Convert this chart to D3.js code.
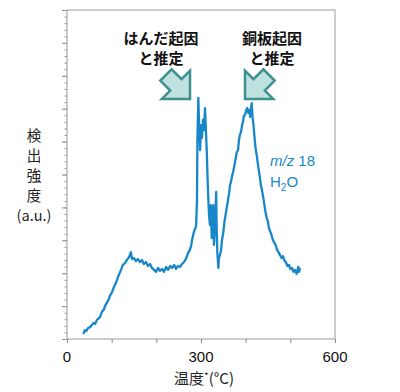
<!doctype html>
<html>
<head>
<meta charset="utf-8">
<style>
  body { margin: 0; background: #fff; }
  svg { display: block; font-family: "Noto Sans CJK JP", "Noto Sans", sans-serif; }
  .frame { fill: none; stroke: #9a9a9a; stroke-width: 1; }
</style>
<script src="https://d3js.org/d3.v7.min.js"></script>
</head>
<body>
<svg width="400" height="392"></svg>
<script>
// temperature (°C)
var temps = [36.5, 40, 43, 47, 51.5, 56, 60, 63, 67, 72, 74, 78, 83, 85, 90, 94, 96, 101, 105, 107.5,
  112, 114, 119, 121, 125, 130, 134, 139, 143, 145.5, 150, 154.5, 159, 163, 168, 172, 177, 181, 186, 190,
  195, 199, 204, 208, 213, 217, 222, 226, 231, 235, 240, 244, 248.5, 253, 257.5, 262, 266, 271, 275, 278,
  280, 282, 284, 286.5, 289, 291, 292, 294, 295.5, 298, 300, 302, 304.5, 307, 309, 311, 313, 314.5, 316, 318,
  320, 322, 324, 326, 327.5, 329, 331, 334, 335, 336.5, 339, 340, 342.5, 345, 347, 350, 352.5, 355, 357.5, 360.5,
  363, 365, 367, 369.5, 372, 375, 377, 380, 383, 385, 387, 389.5, 392, 394, 396, 398.5, 400.7, 403.6, 406, 408.6,
  410, 412, 413.5, 415, 417.5, 420, 422, 424.7, 427.6, 430, 432, 434, 436.5, 439.5, 442, 444.4, 447, 450, 452, 455.6,
  458, 461, 464.5, 468, 470, 473.5, 477, 480.5, 483.6, 487, 490, 493.6, 497, 500, 503.7, 507, 510, 514, 516, 518,
  519.5, 521.6];
// m/z 18 intensity (a.u.)
var h2o = [0.15, 0.27, 0.24, 0.33, 0.36, 0.43, 0.49, 0.46, 0.58, 0.64, 0.67, 0.82, 0.91, 1.0, 1.12, 1.22, 1.31, 1.43, 1.58, 1.64,
  1.79, 1.88, 2.04, 2.10, 2.25, 2.31, 2.40, 2.49, 2.64, 2.43, 2.46, 2.37, 2.43, 2.34, 2.40, 2.28, 2.34, 2.22, 2.28, 2.16,
  2.10, 2.04, 2.16, 2.07, 2.13, 2.04, 2.19, 2.10, 2.22, 2.16, 2.25, 2.13, 2.22, 2.19, 2.28, 2.34, 2.43, 2.61, 2.71, 2.83,
  3.01, 3.13, 3.25, 3.34, 3.43, 4.22, 6.05, 7.33, 6.66, 5.74, 6.50, 6.11, 6.66, 6.35, 7.02, 6.35, 5.68, 4.98, 4.38, 3.77,
  3.47, 4.07, 3.07, 3.62, 4.07, 2.86, 3.31, 4.47, 3.47, 2.64, 2.16, 2.46, 2.55, 2.71, 3.01, 3.25, 3.56, 3.77, 3.98, 4.22,
  4.44, 4.68, 4.77, 4.95, 5.08, 5.29, 5.44, 5.68, 5.74, 6.05, 6.20, 6.29, 6.50, 6.60, 6.78, 6.81, 6.93, 7.02, 6.87, 6.96,
  6.75, 7.02, 7.17, 6.81, 6.50, 6.11, 5.81, 5.59, 5.29, 5.08, 4.89, 4.68, 4.53, 4.29, 4.07, 3.86, 3.68, 3.56, 3.37, 3.25,
  3.16, 3.01, 2.92, 2.83, 2.71, 2.64, 2.55, 2.46, 2.52, 2.37, 2.34, 2.22, 2.25, 2.13, 2.16, 2.04, 2.10, 1.98, 2.10, 2.19,
  2.04, 2.16];
var xTickLabels = [0, 300, 600];
var yLabelLines = ["検", "出", "強", "度", "(a.u.)"];
var notes = [
  { lines: ["はんだ起因", "と推定"], dir: 1 },
  { lines: ["銅板起因", "と推定"], dir: -1 }
];

var svg = d3.select("svg");
var mLeft = 67, mRight = 335, mTop = 10, mBottom = 339;
var blue = "#1787c9";

var x = d3.scaleLinear().domain([0, 600]).range([mLeft, mRight]);
var y = d3.scaleLinear().domain([0, 10]).range([mBottom, mTop]);

// frame
svg.append("rect").attr("class", "frame")
  .attr("x", mLeft).attr("y", mTop).attr("width", mRight - mLeft).attr("height", mBottom - mTop);

// x axis: ticks every 100, labels only at 0/300/600
var gx = svg.append("g").attr("transform", "translate(0," + mBottom + ")")
  .call(d3.axisBottom(x).tickValues(d3.range(0, 601, 100)).tickSize(4).tickFormat(""));
gx.select(".domain").remove();
gx.selectAll(".tick line").attr("stroke", "#8a8a8a");

svg.selectAll(".xlab").data(xTickLabels).enter().append("text")
  .attr("x", function(d) { return x(d); }).attr("y", 362)
  .attr("text-anchor", "middle").attr("font-size", 15).attr("fill", "#111")
  .attr("font-family", "'Liberation Sans', Arial, sans-serif")
  .text(function(d) { return d; });

// y axis: major + minor ticks, no labels
var gy = svg.append("g").attr("transform", "translate(" + mLeft + ",0)")
  .call(d3.axisLeft(y).ticks(10).tickSize(5).tickFormat(""));
gy.select(".domain").remove();
gy.selectAll(".tick line").attr("stroke", "#8a8a8a");
var gm = svg.append("g").attr("transform", "translate(" + mLeft + ",0)")
  .call(d3.axisLeft(y).tickValues(d3.range(0, 10.01, 0.2)).tickSize(2.5).tickFormat(""));
gm.select(".domain").remove();
gm.selectAll(".tick line").attr("stroke", "#9a9a9a");

// data line
var pts = temps.map(function(t, i) { return [t, h2o[i]]; });
svg.append("path").datum(pts)
  .attr("fill", "none").attr("stroke", blue).attr("stroke-width", 2.3)
  .attr("stroke-linejoin", "round")
  .attr("d", d3.line().x(function(d) { return x(d[0]); }).y(function(d) { return y(d[1]); }));

// legend text
var lg = svg.append("text").attr("x", 270).attr("y", 166).attr("fill", blue).attr("font-size", 15)
  .attr("font-family", "'Liberation Sans', Arial, sans-serif");
lg.append("tspan").attr("font-style", "italic").text("m/z");
lg.append("tspan").text(" 18");
var lh = svg.append("text").attr("x", 270).attr("y", 187).attr("fill", blue).attr("font-size", 15)
  .attr("font-family", "'Liberation Sans', Arial, sans-serif");
lh.append("tspan").text("H");
lh.append("tspan").attr("font-size", 10).attr("dy", 4).text("2");
lh.append("tspan").attr("dy", -4).text("O");

// y label
var yBase = [141, 161, 181, 201, 221];
svg.selectAll(".ylab").data(yLabelLines).enter().append("text")
  .attr("x", 34).attr("y", function(d, i) { return yBase[i]; })
  .attr("text-anchor", "middle").attr("font-size", 14.5).attr("fill", "#222")
  .text(function(d) { return d; });

// x label
var xl = svg.append("text").attr("x", 204).attr("y", 384).attr("text-anchor", "middle")
  .attr("font-size", 15).attr("fill", "#222");
xl.append("tspan").text("温度");
xl.append("tspan").attr("font-size", 10).attr("dy", -4).text("*");
xl.append("tspan").attr("dy", 4).text("(°C)");

// annotations with block arrows pointing at the two peaks
var h = 20, w = 8, L = 34;
var arrowPath = "M0,0 L" + (-h) + "," + (-h) + " L" + (-h) + "," + (-w) + " L" + (-L) + "," + (-w) +
  " L" + (-L) + "," + w + " L" + (-h) + "," + w + " L" + (-h) + "," + h + " Z";
notes.forEach(function(n) {
  var cx = n.dir > 0 ? 161 : 272;
  n.lines.forEach(function(s, i) {
    svg.append("text").attr("x", cx).attr("y", 44 + i * 20).attr("text-anchor", "middle")
      .attr("font-size", 15).attr("font-weight", "bold").attr("fill", "#111").text(s);
  });
  var tipX = n.dir > 0 ? 190 : 245;
  svg.append("path").attr("d", arrowPath)
    .attr("transform", "translate(" + tipX + ",99) rotate(" + (n.dir > 0 ? 45 : 135) + ")")
    .attr("fill", "#bfe1df").attr("stroke", "#3f9190").attr("stroke-width", 2.5)
    .attr("stroke-linejoin", "miter");
});
</script>
</body>
</html>
